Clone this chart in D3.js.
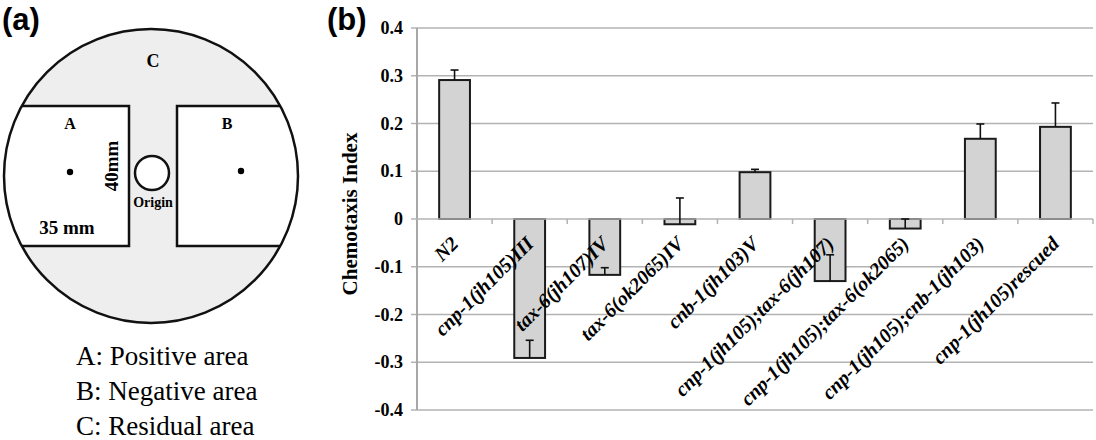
<!DOCTYPE html>
<head>
	<meta charset="utf-8">
	<title>Chemotaxis</title>
	<script src="https://cdn.jsdelivr.net/npm/d3@7/dist/d3.min.js"></script>
	<style>
		body { margin: 0; background: #fff; }
	</style>
</head>

<body>
	<div id="chart"></div>

  <script>
		// data
		var categories = ["N2", "cnp-1(jh105)III", "tax-6(jh107)IV", "tax-6(ok2065)IV",
			"cnb-1(jh103)V", "cnp-1(jh105);tax-6(jh107)", "cnp-1(jh105);tax-6(ok2065)",
			"cnp-1(jh105);cnb-1(jh103)", "cnp-1(jh105)rescued"];
		var values = [0.291, -0.291, -0.117, -0.011, 0.098, -0.130, -0.020, 0.168, 0.193];
		var errors = [0.021, 0.037, 0.015, 0.055, 0.006, 0.055, 0.020, 0.031, 0.050];
		var yTicks = [0.4, 0.3, 0.2, 0.1, 0, -0.1, -0.2, -0.3, -0.4];
		var legendLines = ["A: Positive area", "B: Negative area", "C: Residual area"];

		var serif = "'Liberation Serif', 'Times New Roman', 'DejaVu Serif', serif";
		var sans = "'Liberation Sans', Arial, sans-serif";

		var svg = d3.select("#chart").append("svg")
			.attr("width", 1096)
			.attr("height", 440)
			.attr("font-family", serif);

		// ---------- panel (a): the plate ----------
		var pa = svg.append("g");
		var cx = 151, cy = 176, r = 147;

		pa.append("text").attr("x", 2).attr("y", 30)
			.attr("font-family", sans)
			.style("font-weight", "bold").style("font-size", "31px")
			.text("(a)");

		svg.append("clipPath").attr("id", "plate")
			.append("circle").attr("cx", cx).attr("cy", cy).attr("r", r);

		pa.append("circle").attr("cx", cx).attr("cy", cy).attr("r", r)
			.attr("fill", "#eeeeee");

		var inner = pa.append("g").attr("clip-path", "url(#plate)");
		inner.append("rect").attr("x", -10).attr("y", 106).attr("width", 139).attr("height", 140)
			.attr("fill", "#fff").attr("stroke", "#111").attr("stroke-width", 2.5);
		inner.append("rect").attr("x", 177).attr("y", 106).attr("width", 140).attr("height", 140)
			.attr("fill", "#fff").attr("stroke", "#111").attr("stroke-width", 2.5);

		pa.append("circle").attr("cx", cx).attr("cy", cy).attr("r", r)
			.attr("fill", "none").attr("stroke", "#111").attr("stroke-width", 2.5);

		pa.append("circle").attr("cx", 70).attr("cy", 172).attr("r", 3.2).attr("fill", "#000");
		pa.append("circle").attr("cx", 241).attr("cy", 171).attr("r", 3.2).attr("fill", "#000");
		pa.append("circle").attr("cx", 152).attr("cy", 173).attr("r", 17)
			.attr("fill", "#fff").attr("stroke", "#111").attr("stroke-width", 2.5);

		var bold = function(sel, size) {
			return sel.style("font-weight", "bold").style("font-size", size + "px");
		};
		bold(pa.append("text").attr("x", 153).attr("y", 67).attr("text-anchor", "middle"), 18).text("C");
		bold(pa.append("text").attr("x", 70).attr("y", 129).attr("text-anchor", "middle"), 16).text("A");
		bold(pa.append("text").attr("x", 227).attr("y", 129).attr("text-anchor", "middle"), 16).text("B");
		bold(pa.append("text").attr("x", 153).attr("y", 207).attr("text-anchor", "middle"), 14).text("Origin");
		bold(pa.append("text").attr("x", 67).attr("y", 234).attr("text-anchor", "middle"), 19).text("35 mm");
		bold(pa.append("text").attr("text-anchor", "middle")
			.attr("transform", "translate(118,166) rotate(-90)"), 19).text("40mm");

		pa.selectAll("text.legend").data(legendLines).enter().append("text")
			.attr("class", "legend")
			.attr("x", 76)
			.attr("y", function (d, i) { return 365 + i * 35; })
			.style("font-size", "27px")
			.text(function (d) { return d; });

		// ---------- panel (b): bar chart ----------
		svg.append("text").attr("x", 327).attr("y", 30)
			.attr("font-family", sans)
			.style("font-weight", "bold").style("font-size", "31px")
			.text("(b)");

		var x = d3.scaleBand().domain(categories).range([417, 1093]);
		var y = d3.scaleLinear().domain([-0.4, 0.4]).range([410, 28]);
		var barW = x.bandwidth() * 0.41;

		var grid = "#b3b3b3";

		// gridlines
		svg.append("g").selectAll("line").data(yTicks.filter(function (d) { return d !== 0; }))
			.enter().append("line")
			.attr("x1", 411).attr("x2", 1093)
			.attr("y1", function (d) { return y(d); })
			.attr("y2", function (d) { return y(d); })
			.attr("stroke", grid).attr("stroke-width", 1.5);

		// tick labels
		svg.append("g").selectAll("text").data(yTicks).enter().append("text")
			.attr("x", 403)
			.attr("y", function (d) { return y(d) + 6; })
			.attr("text-anchor", "end")
			.style("font-weight", "bold").style("font-size", "18px")
			.text(function (d) { return d === 0 ? "0" : d.toFixed(1); });

		// y axis line
		svg.append("line").attr("x1", 417).attr("x2", 417)
			.attr("y1", y(0.4)).attr("y2", y(-0.4))
			.attr("stroke", "#a8a8a8").attr("stroke-width", 2);

		svg.append("text")
			.attr("transform", "translate(357," + (y(0) - 5) + ") rotate(-90)")
			.attr("text-anchor", "middle")
			.style("font-weight", "bold").style("font-size", "21px")
			.text("Chemotaxis Index");

		// bars
		svg.append("g").selectAll("rect").data(categories).enter().append("rect")
			.attr("x", function (d) { return x(d) + (x.bandwidth() - barW) / 2; })
			.attr("y", function (d, i) { return y(Math.max(0, values[i])); })
			.attr("width", barW)
			.attr("height", function (d, i) { return Math.abs(y(values[i]) - y(0)); })
			.attr("fill", "#d3d3d3").attr("stroke", "#1a1a1a").attr("stroke-width", 2);

		// zero line with ticks at category boundaries
		svg.append("line").attr("x1", 411).attr("x2", 1093)
			.attr("y1", y(0)).attr("y2", y(0))
			.attr("stroke", grid).attr("stroke-width", 1.5);
		var bounds = categories.map(function (d) { return x(d); }).concat([x.range()[1]]);
		svg.append("g").selectAll("line").data(bounds.slice(1)).enter().append("line")
			.attr("x1", function (d) { return d; }).attr("x2", function (d) { return d; })
			.attr("y1", y(0)).attr("y2", y(0) + 5)
			.attr("stroke", grid).attr("stroke-width", 1.5);

		// error bars (upper side only)
		var eb = svg.append("g").attr("stroke", "#111").attr("stroke-width", 1.6);
		categories.forEach(function (d, i) {
			var cxb = x(d) + x.bandwidth() / 2;
			var top = y(values[i] + errors[i]);
			eb.append("line").attr("x1", cxb).attr("x2", cxb)
				.attr("y1", y(values[i])).attr("y2", top);
			eb.append("line").attr("x1", cxb - 4).attr("x2", cxb + 4)
				.attr("y1", top).attr("y2", top);
		});

		// category labels
		svg.append("g").selectAll("text").data(categories).enter().append("text")
			.attr("transform", function (d) {
				return "translate(" + (x(d) + x.bandwidth() / 2 + 5) + "," + (y(0) + 26) + ") rotate(-45)";
			})
			.attr("text-anchor", "end")
			.style("font-weight", "bold").style("font-style", "italic").style("font-size", "20px")
			.text(function (d) { return d; });
	</script>
</body>
</html>
